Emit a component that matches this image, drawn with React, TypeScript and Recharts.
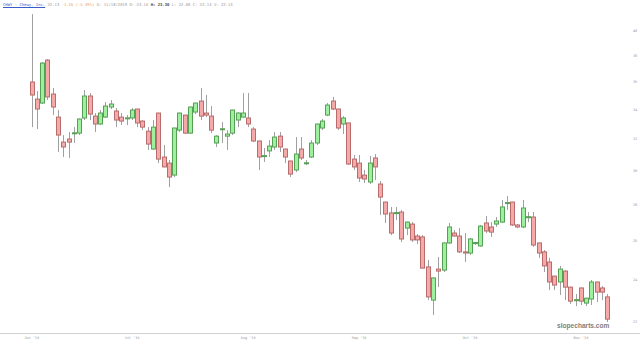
import { ComposedChart, Bar, XAxis, YAxis } from 'recharts'

// daily OHLC (log price scale)
const opens = [
  35.98, 34.74, 34.46, 37.63, 35.1, 33.48, 31.81, 32.01, 32.38, 32.4,
  33.42, 34.96, 33.55, 33.01, 33.48, 34.18, 33.9, 33.48, 33.41, 33.42,
  34.04, 33.21, 32.53, 31.36, 33.76, 30.85, 30.47, 29.73, 32.6, 33.62,
  32.4, 33.83, 34.6, 33.76, 33.55, 31.75, 32.65, 32.2, 32.4, 33.28,
  33.48, 33.42, 32.67, 31.88, 30.9, 31.24, 31.49, 32.2, 31.36, 30.6,
  30.04, 31.36, 30.45, 30.85, 31.75, 32.74, 33.62, 34.6, 34.04, 33.01,
  33.08, 30.72, 30.47, 29.73, 29.31, 30.79, 29.19, 28.13, 27.51, 27.49,
  27.56, 26.67, 26.89, 26.24, 26.19, 24.63, 23.01, 24.52, 24.47, 25.87,
  26.4, 26.24, 25.4, 25.34, 25.85, 25.71, 26.95, 26.73, 26.89, 27.0,
  28.06, 28.13, 26.84, 26.73, 27.26, 27.28, 25.87, 25.4, 24.88, 24.17,
  23.88, 24.42, 23.63, 22.99, 23.59, 22.87, 23.06, 23.88, 23.59, 23.16,
]
const highs = [
  41.35, 35.32, 37.48, 37.71, 35.54, 33.97, 32.27, 32.47, 32.8, 33.38,
  35.39, 35.17, 33.76, 33.97, 34.53, 34.67, 34.11, 33.76, 33.62, 34.11,
  34.06, 33.28, 32.8, 33.28, 33.78, 31.62, 30.66, 32.76, 33.78, 33.64,
  34.2, 34.48, 35.54, 35.03, 34.25, 32.27, 33.14, 32.6, 33.99, 33.83,
  35.17, 35.17, 32.8, 31.9, 31.43, 31.94, 32.47, 32.47, 31.38, 30.62,
  32.14, 32.14, 30.66, 31.94, 33.03, 33.35, 34.46, 34.89, 34.06, 33.55,
  33.1, 30.98, 30.98, 30.04, 30.92, 31.04, 29.37, 28.15, 27.85, 27.85,
  27.68, 27.02, 27.0, 26.34, 26.29, 24.98, 24.1, 25.14, 25.89, 26.95,
  26.56, 26.67, 26.4, 26.13, 25.92, 26.84, 27.34, 27.0, 27.28, 28.25,
  28.48, 28.15, 26.89, 28.25, 27.56, 27.56, 25.89, 25.5, 25.09, 24.19,
  24.68, 24.47, 23.65, 23.3, 23.61, 23.12, 23.98, 23.9, 23.68, 23.3,
]
const lows = [
  32.8, 32.67, 34.39, 34.67, 33.62, 31.17, 30.85, 30.79, 31.75, 32.27,
  33.28, 33.28, 32.47, 32.94, 33.42, 34.04, 32.8, 32.94, 32.94, 33.28,
  32.8, 32.6, 31.3, 31.3, 30.47, 30.21, 29.01, 29.61, 32.47, 32.34,
  32.34, 33.69, 33.28, 33.48, 32.4, 31.49, 31.75, 31.3, 32.27, 32.8,
  33.42, 32.8, 31.81, 30.04, 30.54, 30.85, 31.3, 31.17, 30.47, 29.61,
  29.91, 30.66, 30.35, 30.79, 31.62, 32.6, 33.55, 33.97, 32.6, 32.34,
  30.35, 30.04, 29.31, 29.25, 29.19, 29.43, 27.39, 26.95, 26.29, 27.11,
  25.92, 26.29, 25.92, 25.81, 24.55, 23.01, 22.32, 23.63, 24.37, 25.81,
  26.19, 25.34, 24.88, 25.24, 25.76, 25.66, 26.4, 26.19, 26.73, 26.95,
  27.68, 26.78, 26.67, 26.67, 27.0, 25.66, 25.09, 24.37, 23.49, 23.49,
  23.25, 23.01, 22.83, 22.73, 22.78, 22.73, 22.78, 22.92, 23.01, 22.0,
]
const closes = [
  35.03, 34.04, 37.4, 34.89, 34.18, 32.27, 31.49, 31.81, 32.42, 33.35,
  34.96, 33.69, 33.01, 33.76, 34.25, 34.39, 33.28, 33.21, 33.43, 33.97,
  33.08, 32.8, 31.68, 32.8, 30.72, 30.23, 29.61, 32.74, 33.76, 32.4,
  34.18, 34.46, 33.55, 33.62, 32.6, 32.2, 32.69, 32.34, 33.97, 33.76,
  33.76, 33.01, 31.88, 30.85, 30.94, 31.55, 32.14, 31.49, 30.85, 29.79,
  31.04, 30.79, 30.49, 31.75, 33.01, 33.21, 34.32, 34.04, 32.74, 33.42,
  30.41, 30.23, 29.55, 29.49, 30.47, 30.23, 28.42, 27.45, 26.4, 27.53,
  26.08, 27.0, 26.03, 26.03, 24.57, 23.16, 24.08, 24.42, 25.87, 26.73,
  26.24, 25.4, 25.34, 26.08, 25.89, 26.78, 26.51, 26.45, 27.06, 27.85,
  28.1, 26.84, 26.73, 27.79, 27.3, 25.76, 25.34, 24.68, 23.88, 23.73,
  24.52, 23.63, 22.96, 23.03, 22.96, 23.1, 23.88, 23.39, 23.39, 22.13,
]

const priceTicks = [22, 24, 26, 28, 30, 32, 34, 36, 38, 40]
const monthTickIndex = [0, 19, 41, 62, 83, 104]
const monthTickLabels = ["Jun '19", "Jul '19", "Aug '19", "Sep '19", "Oct '19", "Nov '19"]

const data = opens.map((o, i) => ({
  idx: i,
  range: [lows[i], highs[i]],
  open: o,
  high: highs[i],
  low: lows[i],
  close: closes[i],
}))

const Candle = (props: any) => {
  const { x, y, width, height, index } = props
  const d = props.payload ?? data[index]
  if (!d) return null
  const { open, close, high, low } = d
  const top = Math.min(y, y + height)
  const bot = Math.max(y, y + height)
  const lh = Math.log(high)
  const span = lh - Math.log(low) || 1
  const py = (v: number) => top + ((lh - Math.log(v)) / span) * (bot - top)
  const cx = Math.round(x + width / 2) + 0.5
  const up = close >= open
  const bTop = py(Math.max(open, close))
  const bh = Math.max(py(Math.min(open, close)) - bTop, 1)
  return (
    <g>
      <line x1={cx} x2={cx} y1={top} y2={bot} stroke="#a0a0a0" strokeWidth={1} />
      <rect
        x={cx - 2}
        y={bTop}
        width={4}
        height={bh}
        fill={up ? '#9ef09e' : '#f5a9a9'}
        stroke={up ? '#56a056' : '#b86c6c'}
        strokeWidth={1}
      />
    </g>
  )
}

const last = data.length - 1
const prevClose = closes[last - 1]
const chg = closes[last] - prevClose

export default function App() {
  return (
    <div
      style={{
        position: 'fixed',
        top: 0,
        left: 0,
        width: 640,
        height: 345,
        background: '#fff',
        fontFamily: '"DejaVu Sans Mono", monospace',
      }}
    >
      <div style={{ position: 'absolute', top: 2, left: 3, fontSize: 3.9, whiteSpace: 'nowrap', color: '#999' }}>
        <span style={{ color: '#3a5bc7', textDecoration: 'underline' }}>CHWY - Chewy, Inc.</span>{' '}
        {closes[last].toFixed(2)}{' '}
        <span style={{ color: '#e2a46a' }}>
          {chg.toFixed(2)} ({((chg / prevClose) * 100).toFixed(2)}%)
        </span>{' '}
        D: 11/18/2019 O: {opens[last].toFixed(2)}{' '}
        <b style={{ color: '#444' }}>H: {highs[last].toFixed(2)}</b> L: {lows[last].toFixed(2)} C:{' '}
        {closes[last].toFixed(2)} V: {closes[last].toFixed(2)}
      </div>

      <ComposedChart
        width={640}
        height={345}
        data={data}
        margin={{ top: 8, right: 0, bottom: 0, left: 29 }}
      >
        <XAxis
          dataKey="idx"
          interval={0}
          height={12}
          axisLine={false}
          tickLine={false}
          tickSize={0}
          tickMargin={4}
          tick={{ fontSize: 3.5, fill: '#999' }}
          tickFormatter={(v: number) => {
            const k = monthTickIndex.indexOf(v)
            return k >= 0 ? monthTickLabels[k] : ''
          }}
        />
        <YAxis
          orientation="right"
          scale="log"
          domain={[21.51, 41.87]}
          allowDataOverflow
          ticks={priceTicks}
          width={30}
          axisLine={false}
          tickLine={false}
          tickSize={0}
          tickMargin={23}
          tick={{ fontSize: 3.5, fill: '#999' }}
        />
        <Bar dataKey="range" shape={<Candle />} isAnimationActive={false} />
      </ComposedChart>

      <div style={{ position: 'absolute', left: 0, top: 333, width: 640, height: 1, background: '#d0d0d0' }} />
      <div
        style={{
          position: 'absolute',
          left: 557,
          top: 322,
          fontFamily: '"Liberation Sans", Arial, sans-serif',
          fontWeight: 'bold',
          fontSize: 6.6,
          color: '#808080',
        }}
      >
        slopecharts.com
      </div>
    </div>
  )
}
